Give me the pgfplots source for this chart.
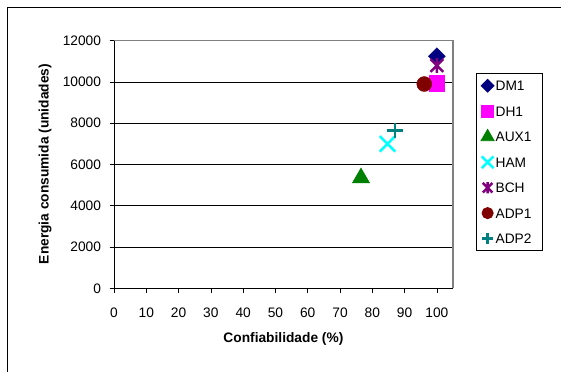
\documentclass[border=0pt]{standalone}
\usepackage{pgfplots}
\pgfplotsset{compat=1.18}
\usepackage{fontspec}
\setmainfont{Liberation Sans}

% Asterisk drawn as a vertical bar crossed by an X
\pgfdeclareplotmark{xlstar}{%
  \pgfpathmoveto{\pgfqpoint{0pt}{-\pgfplotmarksize}}%
  \pgfpathlineto{\pgfqpoint{0pt}{\pgfplotmarksize}}%
  \pgfpathmoveto{\pgfqpoint{-.85\pgfplotmarksize}{-.85\pgfplotmarksize}}%
  \pgfpathlineto{\pgfqpoint{.85\pgfplotmarksize}{.85\pgfplotmarksize}}%
  \pgfpathmoveto{\pgfqpoint{-.85\pgfplotmarksize}{.85\pgfplotmarksize}}%
  \pgfpathlineto{\pgfqpoint{.85\pgfplotmarksize}{-.85\pgfplotmarksize}}%
  \pgfusepathqstroke}

\definecolor{cDM}{RGB}{0,0,128}
\definecolor{cDH}{RGB}{255,0,255}
\definecolor{cAUX}{RGB}{0,128,0}
\definecolor{cHAM}{RGB}{0,255,255}
\definecolor{cBCH}{RGB}{128,0,128}
\definecolor{cADPa}{RGB}{128,0,0}
\definecolor{cADPb}{RGB}{0,128,128}
\definecolor{frame}{RGB}{128,128,128}

\newcommand{\lbl}[1]{\makebox[42bp][l]{#1}}

\begin{document}
\begin{tikzpicture}[x=1bp,y=1bp]
\useasboundingbox (0,0) rectangle (561,372);
\draw[black, line width=0.8bp] (7,0) -- (7,365) -- (561,365);

\begin{axis}[
  name=ax,
  at={(114bp,83.7bp)}, anchor=south west,
  scale only axis, width=339bp, height=247.6bp,
  xmin=0, xmax=105, ymin=0, ymax=12000,
  xtick={0,10,...,100}, ytick={0,2000,...,12000},
  ymajorgrids, grid style={black, line width=0.6bp},
  axis line style={draw=none},
  tick style={black, line width=0.6bp}, tick align=outside, major tick length=4.5bp,
  xtick pos=bottom, ytick pos=left,
  scaled y ticks=false,
  /pgf/number format/1000 sep={},
  /pgf/number format/assume math mode=true,
  ticklabel style={font=\fontsize{13.8}{16}\selectfont},
  xticklabel style={yshift=-12bp},
  yticklabel style={xshift=-5bp},
  clip=false,
  only marks,
  legend style={at={(1,1)}, anchor=north west, xshift=22.7bp, yshift=-32.5bp,
    draw=black, line width=0.8bp, inner sep=5bp, row sep=11.1bp, column sep=1.5bp,
    font=\fontsize{13.8}{16}\selectfont,
    nodes={inner sep=0pt, text height=12.1bp, text depth=2.2bp}},
  legend cell align=left,
  legend image code/.code={\path[draw=none] (0bp,-1bp) rectangle (10bp,1bp); \path[#1, only marks] plot coordinates {(5bp,0bp)};},
  legend image post style={/tikz/every mark/.append style={scale=0.75}},
]
\addplot[mark=diamond*, mark size=8.5bp, color=cDM, mark options={xscale=1.33}]
  coordinates {(100,11250)};
\addlegendentry{\lbl{DM1}}
\addplot[mark=square*, mark size=7.8bp, color=cDH]
  coordinates {(100,9950)};
\addlegendentry{\lbl{DH1}}
\addplot[mark=triangle*, mark size=10bp, color=cAUX]
  coordinates {(76.5,5350)};
\addlegendentry{\lbl{AUX1}}
\addplot[mark=x, mark size=11bp, color=cHAM, line width=2.5bp]
  coordinates {(84.7,7000)};
\addlegendentry{\lbl{HAM}}
\addplot[mark=xlstar, mark size=7.5bp, color=cBCH, line width=2.5bp]
  coordinates {(100,10800)};
\addlegendentry{\lbl{BCH}}
\addplot[mark=*, mark size=7.5bp, color=cADPa]
  coordinates {(96.1,9900)};
\addlegendentry{\lbl{ADP1}}
\addplot[mark=+, mark size=7.8bp, color=cADPb, line width=2.5bp]
  coordinates {(87.1,7650)};
\addlegendentry{\lbl{ADP2}}

% plot area border: black axes on the left and bottom, grey on top and right
\draw[frame, line width=1.6bp] (rel axis cs:0,1) -- (rel axis cs:1,1) -- (rel axis cs:1,0);
\draw[black, line width=0.9bp] (rel axis cs:0,1) -- (rel axis cs:0,0) -- (rel axis cs:1,0);
\end{axis}

\node[font=\bfseries\fontsize{13.8}{16}\selectfont] at (283.4,33.3) {Confiabilidade (\%)};
\node[font=\bfseries\fontsize{13.8}{16}\selectfont, rotate=90] at (45,208) {Energia consumida (unidades)};
\end{tikzpicture}
\end{document}
